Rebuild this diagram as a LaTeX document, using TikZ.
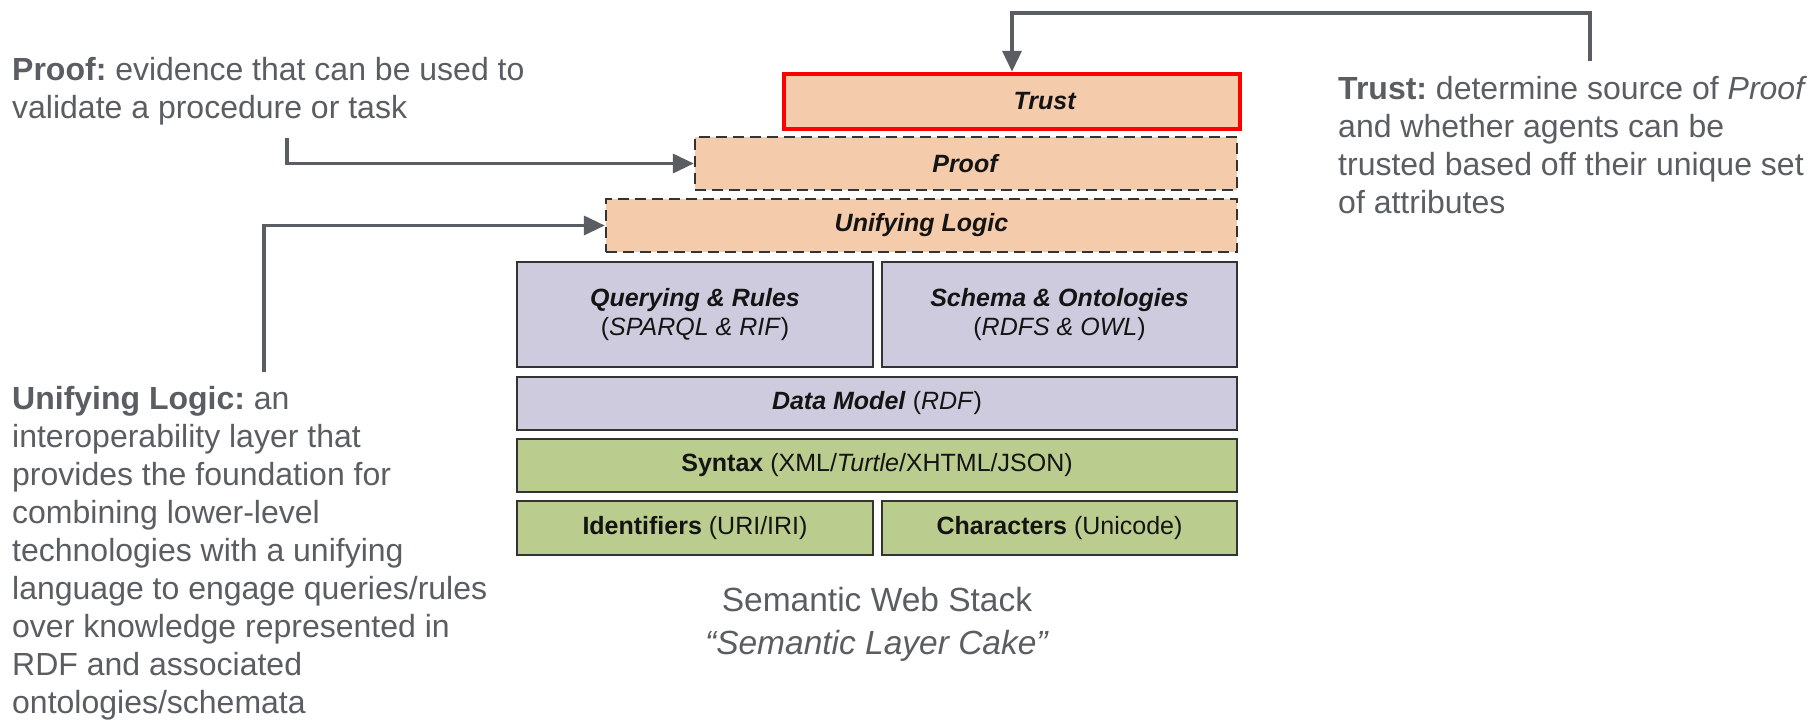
\documentclass[tikz,border=0pt]{standalone}
\usepackage{fontspec}
\setmainfont{Liberation Sans}
\usetikzlibrary{arrows.meta}
\frenchspacing

\definecolor{inkgray}{RGB}{90,94,99}
\definecolor{peach}{RGB}{244,204,172}
\definecolor{lavender}{RGB}{207,203,222}
\definecolor{sage}{RGB}{186,204,142}
\definecolor{edgegray}{RGB}{51,51,51}
\definecolor{alertred}{RGB}{255,0,0}

\begin{document}
\begin{tikzpicture}[x=1pt,y=-1pt,
  layer/.style={draw=edgegray, line width=2.3pt, inner sep=0pt,
    font=\fontsize{25}{28.5}\selectfont, text=black!92, align=center},
  speculative/.style={layer, fill=peach, dash pattern=on 11pt off 6pt},
  semantic/.style={layer, fill=lavender},
  foundation/.style={layer, fill=sage},
  % notes are anchored at the baseline of their last line
  note/.style={font=\fontsize{32}{38}\selectfont, text=inkgray, align=left,
    inner sep=0pt, anchor=base west},
  caption/.style={font=\fontsize{33.5}{43}\selectfont, text=inkgray,
    inner sep=0pt, anchor=base},
  pointer/.style={draw=inkgray, line width=3.6pt,
    -{Triangle[length=21pt,width=19pt]}}
]
\useasboundingbox[fill=white] (0,0) rectangle (1813,723);

% the layered stack, top to bottom
\node[layer, fill=peach, draw=alertred, line width=4.5pt,
      minimum width=456pt, minimum height=55pt] (trust) at (1012,101.5) {};
\node[layer, draw=none] (trustlabel) at (1045,101.5) {\textbf{\textit{Trust}}};
\node[speculative, minimum width=542pt, minimum height=53pt] (proof) at (966,163.5)
  {\textbf{\textit{Proof}}};
\node[speculative, minimum width=631pt, minimum height=53pt] (unif) at (921.5,225.5)
  {\textbf{\textit{Unifying Logic}}};
\node[semantic, minimum width=356pt, minimum height=105pt] (query) at (695,314.5)
  {\textbf{\textit{Querying \& Rules}}\\(\textit{SPARQL \& RIF})};
\node[semantic, minimum width=355pt, minimum height=105pt] (schema) at (1059.5,314.5)
  {\textbf{\textit{Schema \& Ontologies}}\\(\textit{RDFS \& OWL})};
\node[semantic, minimum width=720pt, minimum height=53pt] (data) at (877,403.5)
  {\textbf{\textit{Data Model}} (\textit{RDF})};
\node[foundation, minimum width=720pt, minimum height=53pt] (syntax) at (877,465.5)
  {\textbf{Syntax} (XML/\textit{Turtle}/XHTML/JSON)};
\node[foundation, minimum width=356pt, minimum height=54pt] (ident) at (695,528)
  {\textbf{Identifiers} (URI/IRI)};
\node[foundation, minimum width=355pt, minimum height=54pt] (chars) at (1059.5,528)
  {\textbf{Characters} (Unicode)};

% caption under the stack
\node[caption] (title) at (877,611) {Semantic Web Stack};
\node[caption] (subtitle) at (877,654) {\textit{“Semantic Layer Cake”}};

% explanatory notes
\node[note] (proofnote) at (12,118)
  {\textbf{Proof:} evidence that can be used to\\validate a procedure or task};
\node[note] (trustnote) at (1338,213)
  {\textbf{Trust:} determine source of \textit{Proof}\\and whether agents can be\\trusted based off their unique set\\of attributes};
\node[note] (unifnote) at (12,713)
  {\textbf{Unifying Logic:} an\\interoperability layer that\\provides the foundation for\\combining lower-level\\technologies with a unifying\\language to engage queries/rules\\over knowledge represented in\\RDF and associated\\ontologies/schemata};

% connectors from the notes to their layers
\coordinate (tstart) at (1590,61);
\coordinate (pstart) at (287,138);
\coordinate (ustart) at (264,372);
\draw[pointer] (tstart) -- ++(0,-48) -| (trust.north);
\draw[pointer] (pstart) |- (proof.west);
\draw[pointer] (ustart) |- (unif.west);
\end{tikzpicture}
\end{document}
